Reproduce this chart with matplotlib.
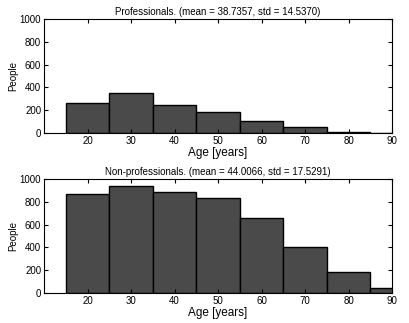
import matplotlib
matplotlib.use("Agg")
import matplotlib.pyplot as plt

bin_centers = [20, 30, 40, 50, 60, 70, 80, 90]
prof_counts = [260, 355, 248, 183, 108, 55, 8, 2]
nonprof_counts = [870, 935, 885, 835, 660, 405, 185, 40]
titles = ["Professionals. (mean = 38.7357, std = 14.5370)",
          "Non-professionals. (mean = 44.0066, std = 17.5291)"]
xticks = [20, 30, 40, 50, 60, 70, 80, 90]
yticks = [0, 200, 400, 600, 800, 1000]

plt.rcParams['font.family'] = ['Liberation Sans', 'DejaVu Sans']
fig = plt.figure(figsize=(4.10, 3.23), dpi=100)

axes_rects = [
    [44/410, 1 - 133/323, 348/410, 114/323],
    [44/410, 1 - 293/323, 348/410, 114/323],
]
for rect, counts, title in zip(axes_rects, [prof_counts, nonprof_counts], titles):
    ax = fig.add_axes(rect)
    ax.bar(bin_centers, counts, width=10, color='#4a4a4a', edgecolor='black', linewidth=1.0)
    ax.set_xlim(10, 90)
    ax.set_ylim(0, 1000)
    ax.set_xticks(xticks)
    ax.set_yticks(yticks)
    ax.tick_params(direction='in', top=True, right=True, labelsize=7, length=3, width=0.8, pad=2)
    ax.set_title(title, fontsize=7, pad=3)
    ax.set_xlabel("Age [years]", fontsize=8.5, labelpad=1)
    ax.set_ylabel("People", fontsize=7, labelpad=1)
    for s in ax.spines.values():
        s.set_linewidth(0.8)

fig.savefig("out.png", dpi=100)
